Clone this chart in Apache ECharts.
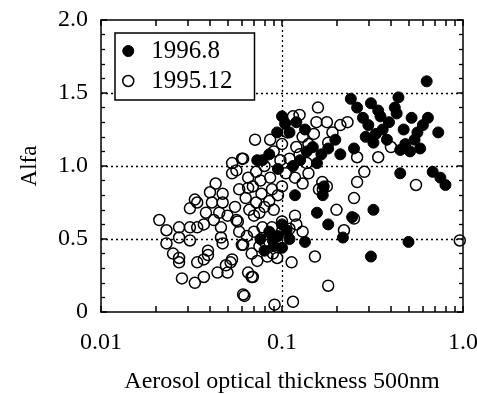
<!DOCTYPE html>
<html>
<head>
<meta charset="utf-8">
<script src="https://cdn.jsdelivr.net/npm/echarts@6/dist/echarts.min.js"></script>
<style>html,body{margin:0;padding:0;background:#fff}#c{width:477px;height:394px}</style>
</head>
<body>
<div id="c"></div>
<script>
const seriesNames = ['1996.8', '1995.12'];
const xTickValues = [0.01, 0.1, 1];
const xTickLabels = ['0.01', '0.1', '1.0'];
const xMinorTicks = [0.02,0.03,0.04,0.05,0.06,0.07,0.08,0.09,0.2,0.3,0.4,0.5,0.6,0.7,0.8,0.9];
const yTickValues = [0, 0.5, 1, 1.5, 2];
const yTickLabels = ['0', '0.5', '1.0', '1.5', '2.0'];
const xGridValues = [0.1];
const yGridValues = [0.5, 1, 1.5];

// 1996.8 (filled)
const aug1996 = [
 [0.63,1.58],[0.24,1.46],[0.26,1.40],[0.31,1.43],[0.34,1.38],[0.44,1.47],[0.42,1.40],[0.28,1.33],[0.30,1.28],
 [0.35,1.34],[0.39,1.30],[0.43,1.36],[0.52,1.33],[0.64,1.33],[0.60,1.28],[0.29,1.20],[0.33,1.22],[0.36,1.25],
 [0.47,1.25],[0.56,1.23],[0.73,1.23],[0.32,1.16],[0.38,1.18],[0.45,1.11],[0.51,1.10],[0.58,1.12],[0.48,1.15],
 [0.54,1.18],[0.45,0.95],[0.68,0.96],[0.75,0.92],[0.80,0.87],[0.21,1.08],[0.25,1.12],
 [0.104,1.29],[0.10,1.34],[0.11,1.23],[0.094,1.23],[0.12,1.30],[0.134,1.25],[0.073,1.04],[0.078,1.04],
 [0.085,1.08],[0.137,1.10],[0.148,1.13],[0.156,1.02],[0.126,1.04],[0.197,1.18],[0.18,1.12],[0.165,1.08],
 [0.115,1.00],[0.095,0.98],
 [0.118,0.80],[0.156,0.68],[0.18,0.60],[0.244,0.65],[0.32,0.70],[0.134,0.48],[0.217,0.51],[0.31,0.38],
 [0.50,0.48],[0.106,0.56],[0.17,0.86],[0.168,0.80],[0.089,0.49],[0.08,0.42],[0.085,0.55],[0.095,0.52],
 [0.10,0.60],[0.09,0.45],[0.11,0.50],[0.076,0.50],[0.10,0.44]
];
// 1995.12 (open)
const dec1995 = [
 [0.021,0.63],[0.023,0.56],[0.023,0.47],[0.025,0.40],[0.027,0.37],[0.027,0.34],[0.028,0.23],[0.033,0.20],
 [0.037,0.24],[0.034,0.34],[0.027,0.58],[0.031,0.58],[0.031,0.49],[0.027,0.51],[0.039,0.42],[0.039,0.39],
 [0.044,0.27],[0.046,0.58],[0.047,0.47],[0.046,0.51],[0.052,0.34],[0.050,0.27],[0.031,0.71],[0.034,0.75],
 [0.041,0.75],[0.047,0.75],[0.037,0.60],[0.034,0.58],[0.033,0.77],[0.043,0.88],[0.040,0.82],[0.047,0.81],
 [0.053,1.02],[0.061,1.05],[0.053,0.95],[0.056,0.63],[0.061,0.46],[0.061,0.12],[0.065,0.27],[0.069,0.24],
 [0.045,0.68],[0.037,0.36],[0.049,0.32],[0.053,0.36],[0.058,0.84],[0.069,0.86],[0.077,0.81],[0.088,0.84],
 [0.078,0.58],[0.088,0.58],[0.083,0.38],[0.089,0.40],[0.091,0.05],
 [0.071,1.18],[0.086,1.18],[0.115,1.34],[0.125,1.35],[0.158,1.40],[0.177,1.30],[0.155,1.30],[0.060,1.05],
 [0.107,1.23],[0.13,1.20],[0.12,1.13],[0.098,1.04],[0.137,1.02],[0.118,0.92],[0.086,0.92],[0.076,0.90],
 [0.056,0.97],[0.065,0.92],[0.177,0.86],[0.16,0.84],[0.18,1.16],
 [0.26,1.06],[0.34,1.06],[0.40,1.13],[0.285,0.96],[0.55,0.87],[0.26,0.89],[0.25,0.78],[0.20,0.70],
 [0.25,0.64],[0.22,0.56],[0.118,0.66],[0.152,0.38],[0.18,0.18],[0.115,0.07],[0.96,0.49],[0.167,0.89],
 [0.168,0.84],[0.062,0.11],[0.068,0.24],[0.060,0.46],[0.113,0.34],[0.094,0.37],[0.057,0.62],
 [0.066,0.70],[0.072,0.75],[0.063,0.78],[0.070,0.66],[0.075,0.68],[0.080,0.72],[0.085,0.76],[0.090,0.70],
 [0.095,0.80],[0.10,0.86],[0.105,0.95],[0.11,1.05],[0.09,1.10],[0.10,1.15],[0.08,1.00],[0.072,0.96],
 [0.065,0.85],[0.055,0.72],[0.050,0.66],[0.058,0.55],[0.064,0.52],[0.070,0.55],[0.075,0.45],[0.080,0.48],
 [0.068,0.40],[0.073,0.35],[0.042,0.63],[0.038,0.68],[0.14,1.15],[0.15,1.22],[0.125,1.08],[0.14,0.95],
 [0.13,0.88],[0.21,1.28],[0.19,1.23],[0.23,1.30],[0.12,0.60],[0.13,0.55],[0.10,0.62],[0.11,0.57]
];

const FONT = 'Liberation Serif';
const chart = echarts.init(document.getElementById('c'), null, {renderer: 'canvas'});
const axisLine = {show: true, onZero: false, lineStyle: {color: '#000', width: 1.5}};
const allXTicks = xTickValues.concat(xMinorTicks);
const gridLineStyle = {color: '#000', width: 1.3, type: [2, 3]};

chart.setOption({
  animation: false,
  backgroundColor: '#fff',
  grid: {left: 101, top: 20, width: 362, height: 292, show: false, containLabel: false, outerBoundsMode: 'none'},
  legend: {
    orient: 'vertical', left: 115, top: 33,
    backgroundColor: '#fff', borderColor: '#000', borderWidth: 1.5, borderRadius: 0,
    padding: [4, 22, 5, 7], itemGap: 2, itemWidth: 36, itemHeight: 11,
    textStyle: {fontFamily: FONT, fontSize: 25, color: '#000', lineHeight: 28},
    data: [
      {name: seriesNames[0], icon: 'circle', itemStyle: {color: '#000', borderColor: '#000', borderWidth: 1}},
      {name: seriesNames[1], icon: 'circle', itemStyle: {color: '#fff', borderColor: '#000', borderWidth: 1.5}}
    ]
  },
  xAxis: [
    {
      type: 'log', logBase: 10, min: 0.01, max: 1, position: 'bottom',
      axisLine: axisLine,
      axisTick: {show: true, inside: true, length: 6, customValues: allXTicks, lineStyle: {color: '#000', width: 1.5}},
      axisLabel: {show: true, customValues: xTickValues, margin: 19, fontFamily: FONT, fontSize: 24, color: '#000',
        formatter: v => { const i = xTickValues.findIndex(t => Math.abs(t - v) / t < 1e-6); return i >= 0 ? xTickLabels[i] : ''; }},
      splitLine: {show: false}, minorTick: {show: false},
      name: 'Aerosol optical thickness 500nm', nameLocation: 'middle', nameGap: 58,
      nameTextStyle: {fontFamily: FONT, fontSize: 24, color: '#000'}
    },
    {
      type: 'log', logBase: 10, min: 0.01, max: 1, position: 'top',
      axisLine: axisLine,
      axisTick: {show: true, inside: true, length: 6, customValues: allXTicks, lineStyle: {color: '#000', width: 1.5}},
      axisLabel: {show: false}, splitLine: {show: false}
    }
  ],
  yAxis: [
    {
      type: 'value', min: 0, max: 2, interval: 0.5, position: 'left',
      axisLine: axisLine,
      axisTick: {show: true, inside: true, length: 6, lineStyle: {color: '#000', width: 1.5}},
      minorTick: {show: true, splitNumber: 5, length: 4, lineStyle: {color: '#000', width: 1.3}},
      axisLabel: {margin: 13, fontFamily: FONT, fontSize: 24, color: '#000',
        formatter: v => { const i = yTickValues.findIndex(t => Math.abs(t - v) < 1e-6); return i >= 0 ? yTickLabels[i] : ''; }},
      splitLine: {show: false},
      name: 'Alfa', nameLocation: 'middle', nameGap: 60, nameRotate: 90,
      nameTextStyle: {fontFamily: FONT, fontSize: 23, color: '#000'}
    },
    {
      type: 'value', min: 0, max: 2, interval: 0.5, position: 'right',
      axisLine: axisLine,
      axisTick: {show: true, inside: true, length: 6, lineStyle: {color: '#000', width: 1.5}},
      minorTick: {show: true, splitNumber: 5, length: 4, lineStyle: {color: '#000', width: 1.3}},
      axisLabel: {show: false}, splitLine: {show: false}
    }
  ],
  series: [
    {
      name: seriesNames[0], type: 'scatter', xAxisIndex: 0, yAxisIndex: 0,
      data: aug1996, symbol: 'circle', symbolSize: 11,
      itemStyle: {color: '#000', borderColor: '#000', borderWidth: 1, opacity: 1},
      markLine: {
        silent: true, symbol: ['none', 'none'], label: {show: false},
        lineStyle: gridLineStyle, z: 1,
        data: xGridValues.map(v => ({xAxis: v})).concat(yGridValues.map(v => ({yAxis: v})))
      },
      z: 3
    },
    {
      name: seriesNames[1], type: 'scatter', xAxisIndex: 0, yAxisIndex: 0,
      data: dec1995, symbol: 'circle', symbolSize: 11,
      itemStyle: {color: 'rgba(255,255,255,0)', borderColor: '#000', borderWidth: 1.5, opacity: 1},
      z: 3
    }
  ]
});
</script>
</body>
</html>
